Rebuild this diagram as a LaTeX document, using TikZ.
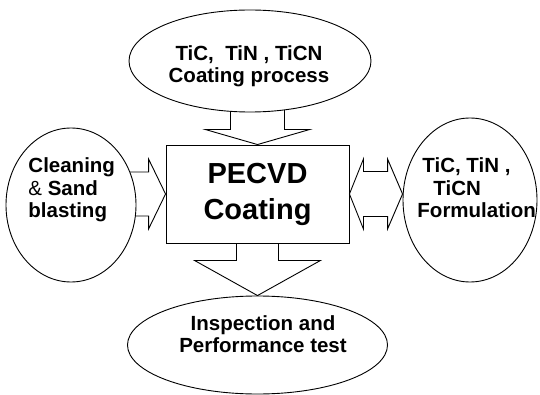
\documentclass[tikz,border=0pt]{standalone}
\usepackage{fontspec}
\setmainfont{Liberation Sans}
\usetikzlibrary{calc,shapes.geometric,backgrounds}

\begin{document}
\begin{tikzpicture}[x=1pt,y=-1pt,line width=.9pt,
  oval/.style={draw,ellipse,fill=white,inner sep=0pt},
  blockarrow/.style={draw,line width=.9pt},
  lbl/.style={font=\fontsize{20.5}{22.5}\selectfont\bfseries,inner sep=0pt}]
 \useasboundingbox (0,0) rectangle (540,395);
 \node[draw,fill=white,minimum width=183,minimum height=98,align=center,
  font=\fontsize{29}{36}\selectfont\bfseries] (box) at (257.5,194) {PECVD\\Coating};
 \node[oval,minimum width=242,minimum height=102] (process) at (250,61) {};
 \node[oval,minimum width=130,minimum height=154] (clean) at (71,205) {};
 \node[oval,minimum width=134,minimum height=164] (formula) at (470,200) {};
 \node[oval,minimum width=260,minimum height=98] (inspect) at (257.5,345) {};
 % block arrows into the box
 \begin{scope}[on background layer]
  \path[blockarrow] ($(box.north)+(-27,-55)$) -- ++(0,40) -- ++(-25,0) -- (box.north)
   -- ++(52,-15) -- ++(-25,0) -- ++(0,-40);
  \path[blockarrow] ($(box.west)+(-60,-22)$) -- ++(43,0) -- ++(0,-13) -- (box.west)
   -- ++(-17,35) -- ++(0,-13) -- ++(-43,0);
  \path[blockarrow] ($(box.south)+(-21,-10)$) -- ++(0,27) -- ++(-42,0) -- (inspect.north)
   -- ($(box.south)+(63,17)$) -- ++(-42,0) -- ++(0,-27);
 \end{scope}
 \path[blockarrow] (box.east) -- ++(14,-35) -- ++(0,12.5)
  -- ($(box.east -| formula.west)+(-15,-22.5)$) -- ++(0,-12.5)
  -- (box.east -| formula.west) -- ++(-15,35) -- ++(0,-12.5)
  -- ($(box.east)+(14,22.5)$) -- ++(0,12.5) -- cycle;
 \node[lbl,align=center] (processtxt) at (249,66) {TiC,\ \ TiN , TiCN\\Coating process};
 \node[lbl,align=left,anchor=west] (cleantxt) at (28,190)
  {Cleaning\\{\mdseries\&} Sand\\blasting};
 \node[lbl,align=left,anchor=west] (formtxt) at (417,188)
  {\hspace*{5pt}TiC, TiN ,\\\hspace*{16pt}TiCN\\Formulation};
 \node[lbl,align=center] (inspecttxt) at (263,334) {Inspection and\\Performance test};
\end{tikzpicture}
\end{document}
